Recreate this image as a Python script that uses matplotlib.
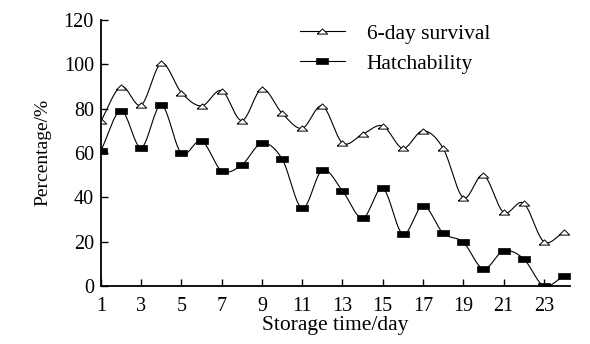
import numpy as np
import matplotlib
matplotlib.use("Agg")
from matplotlib import pyplot as plt

days = list(range(1, 25))
survival = [74.4, 89.9, 81.6, 100.4, 87.2, 81.2, 88.1, 74.6, 88.9, 77.9, 71.1, 81.2,
            64.5, 68.4, 72.2, 62.1, 70.0, 62.1, 39.8, 50.0, 33.2, 37.3, 20.0, 24.2]
hatch = [61.0, 79.0, 62.4, 81.6, 59.8, 65.5, 51.9, 54.6, 64.4, 57.3, 35.0, 52.3,
         42.9, 30.5, 44.0, 23.3, 36.2, 23.8, 19.7, 7.7, 15.8, 12.2, 0.0, 4.5]
xtick_labels = [str(d) for d in range(1, 24, 2)]


def smooth(x, y, n=20):
    """Catmull-Rom smoothing like Excel's smoothed line"""
    x = np.asarray(x, float)
    y = np.asarray(y, float)
    px = np.concatenate([[2 * x[0] - x[1]], x, [2 * x[-1] - x[-2]]])
    py = np.concatenate([[2 * y[0] - y[1]], y, [2 * y[-1] - y[-2]]])
    xs, ys = [], []
    t = np.linspace(0, 1, n, endpoint=False)
    for i in range(1, len(px) - 2):
        for p, out in ((px, xs), (py, ys)):
            p0, p1, p2, p3 = p[i - 1], p[i], p[i + 1], p[i + 2]
            out.extend(0.5 * (2 * p1 + (-p0 + p2) * t
                              + (2 * p0 - 5 * p1 + 4 * p2 - p3) * t ** 2
                              + (-p0 + 3 * p1 - 3 * p2 + p3) * t ** 3))
    xs.append(x[-1])
    ys.append(y[-1])
    return np.array(xs), np.array(ys)


plt.rcParams["font.family"] = ["Liberation Serif", "DejaVu Serif"]

fig = plt.figure(figsize=(5.9, 3.44), dpi=100)
ax = fig.add_axes([0.171, 0.169, 0.795, 0.773])

# flat rectangle and flat triangle markers like the original
rect = [(-1.8, -1), (1.8, -1), (1.8, 1), (-1.8, 1), (-1.8, -1)]
tri = [(-1.5, -0.75), (1.5, -0.75), (0, 0.75), (-1.5, -0.75)]
tri_style = dict(marker=tri, ms=7.5, mfc="white", mec="black", mew=0.7)
sq_style = dict(marker=rect, ms=9, mfc="black", mec="black", mew=0.5)

sx, sy = smooth(days, survival)
ax.plot(sx, sy, color="black", lw=0.8)
ax.plot(days, survival, ls="none", **tri_style)
hx, hy = smooth(days, hatch)
ax.plot(hx, hy, color="black", lw=0.8)
ax.plot(days, hatch, ls="none", **sq_style)

# legend proxies
ax.plot([], [], color="black", lw=0.8, label="6-day survival", **tri_style)
ax.plot([], [], color="black", lw=0.8, label="Hatchability", **sq_style)
ax.legend(loc="upper left", bbox_to_anchor=(0.424, 0.985), frameon=False,
          fontsize=15.5, handlelength=2.1, labelspacing=0.45, handletextpad=1.0,
          borderpad=0, borderaxespad=0)

ax.set_xlim(1, 24.3)
ax.set_ylim(0, 120)
ax.set_xticks(range(1, 24, 2))
ax.set_xticklabels(xtick_labels)
ax.set_yticks(range(0, 121, 20))
ax.tick_params(direction="in", length=5, width=1, labelsize=14.5)
ax.tick_params(axis="x", pad=8)
ax.tick_params(axis="y", pad=5)
for s in ["top", "right"]:
    ax.spines[s].set_visible(False)
for s in ["left", "bottom"]:
    ax.spines[s].set_linewidth(1.3)

ax.set_xlabel("Storage time/day", fontsize=15.5, labelpad=0)
ax.set_ylabel("Percentage/%", fontsize=14, labelpad=9)

fig.savefig("out.png", dpi=100)
